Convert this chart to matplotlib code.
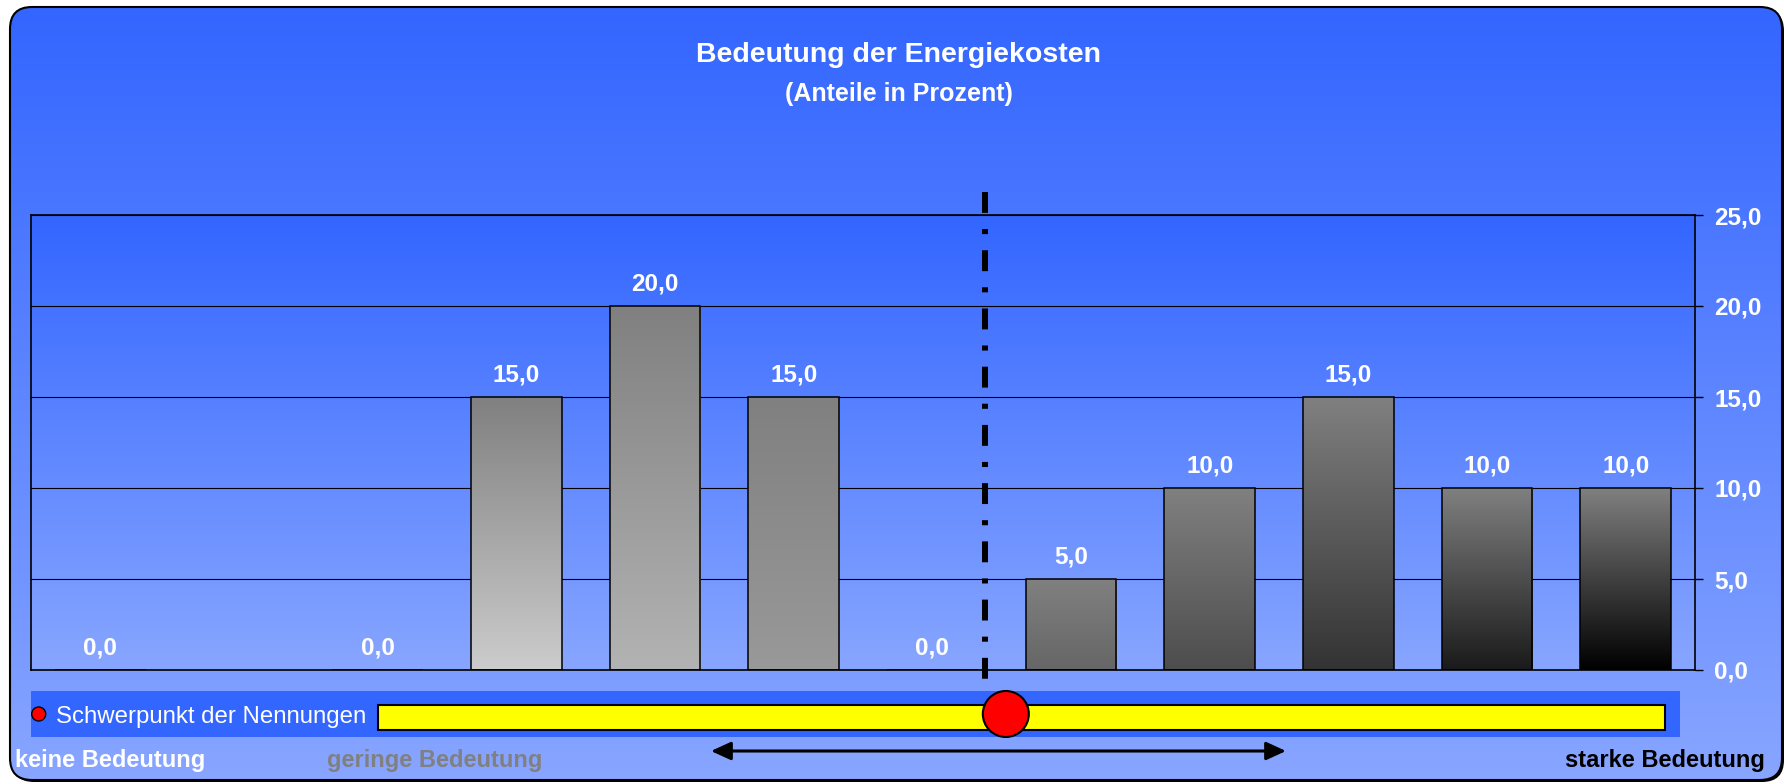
import numpy as np
import matplotlib
matplotlib.use("Agg")
import matplotlib.pyplot as plt
from matplotlib.colors import to_rgb
from matplotlib.patches import FancyBboxPatch, Rectangle, Circle, FancyArrowPatch
from matplotlib.ticker import FuncFormatter

plt.rcParams['font.family'] = ['Liberation Sans', 'DejaVu Sans']
plt.rcParams['font.weight'] = 'bold'

# --- data ---
positions = list(range(12))
values = [0.0, None, 0.0, 15.0, 20.0, 15.0, 0.0, 5.0, 10.0, 15.0, 10.0, 10.0]
yticks = [0, 5, 10, 15, 20, 25]
mean_pos = 6.38      # position of the dash-dot line (category scale)
centroid = 6.53      # Schwerpunkt der Nennungen (category scale)

title = "Bedeutung der Energiekosten"
subtitle = "(Anteile in Prozent)"
legend_label = "Schwerpunkt der Nennungen"
scale_labels = ["keine Bedeutung", "geringe Bedeutung", "starke Bedeutung"]

# bottom colour of each bar's grey gradient (top is always #808080)
bottom_shades = ['#cccccc', '#cccccc', '#cccccc', '#cccccc', '#b3b3b3', '#999999',
                 '#808080', '#666666', '#4d4d4d', '#333333', '#1a1a1a', '#000000']

W, H = 1784, 784


def fmt(v):
    return f"{v:.1f}".replace('.', ',')


def vgrad(c_top, c_bot, n=256):
    t = np.linspace(0, 1, n)[:, None]
    c0 = np.array(to_rgb(c_top))
    c1 = np.array(to_rgb(c_bot))
    return (c0 + (c1 - c0) * t)[:, None, :]


fig = plt.figure(figsize=(W / 100, H / 100), dpi=100)
fig.patch.set_facecolor('white')

# background layer in pixel coordinates
bg = fig.add_axes([0, 0, 1, 1], zorder=0)
bg.set_xlim(0, W)
bg.set_ylim(H, 0)
bg.axis('off')

box_style = "round,pad=0,rounding_size=22"
shadow = FancyBboxPatch((12, 9), 1772, 773, boxstyle=box_style,
                        fc='black', ec='none', zorder=1)
bg.add_patch(shadow)
frame = FancyBboxPatch((10, 7), 1772, 773, boxstyle=box_style,
                       fc='none', ec='black', lw=1.5, zorder=3)
bg.add_patch(frame)
im = bg.imshow(vgrad('#3366ff', '#88a5ff'), extent=(10, 1782, 780, 7),
               origin='upper', aspect='auto', zorder=2)
im.set_clip_path(frame)
# plot area fill
bg.imshow(vgrad('#3366ff', '#88a6ff'), extent=(31, 1695, 670, 215),
          origin='upper', aspect='auto', zorder=4)
bg.set_xlim(0, W)
bg.set_ylim(H, 0)

# main chart
ax = fig.add_axes([31 / W, (H - 670) / H, 1664 / W, 455 / H], zorder=1)
ax.set_facecolor('none')

bar_x = [p for p, v in zip(positions, values) if v is not None]
bar_h = [v for v in values if v is not None]
bar_c = [c for c, v in zip(bottom_shades, values) if v is not None]
bars = ax.bar(bar_x, bar_h, width=0.656, color='none', edgecolor='black',
              linewidth=1.1, zorder=3)
for rect, c in zip(bars, bar_c):
    h = rect.get_height()
    if h <= 0:
        continue
    x0 = rect.get_x()
    g = ax.imshow(vgrad('#808080', c), extent=(x0, x0 + rect.get_width(), 0, h),
                  origin='upper', aspect='auto', zorder=2)
    g.set_clip_path(rect)

for p, v in zip(bar_x, bar_h):
    ax.annotate(fmt(v), (p, v), xytext=(0, 11.5), textcoords='offset points',
                ha='center', va='baseline', color='white', fontsize=17.5,
                fontweight='bold')

ax.set_xlim(-0.5, 11.5)
ax.set_ylim(0, 25)
ax.set_xticks([])
ax.yaxis.tick_right()
ax.set_yticks(yticks)
ax.yaxis.set_major_formatter(FuncFormatter(lambda v, _: fmt(v)))
ax.tick_params(axis='y', direction='out', length=6, width=1, color='black',
               labelcolor='white', labelsize=17.5, pad=8)
ax.yaxis.grid(True, color='black', linewidth=0.8)
ax.set_axisbelow(True)
for s in ax.spines.values():
    s.set_color('black')
    s.set_linewidth(1.2)

# overlay in pixel coordinates
ov = fig.add_axes([0, 0, 1, 1], zorder=2)
ov.set_xlim(0, W)
ov.set_ylim(H, 0)
ov.axis('off')

ov.text(899, 62, title, ha='center', va='baseline', color='white', fontsize=20.5)
ov.text(899, 101, subtitle, ha='center', va='baseline', color='white', fontsize=18)

xm = ax.transData.transform((mean_pos, 0))[0]
ov.plot([xm, xm], [192, 683], color='black', lw=4.3,
        linestyle=(0, (3.5, 2.7, 0.85, 2.7)), solid_capstyle='butt')

ov.add_patch(Rectangle((30.6, 691), 1649.4, 46, fc='#3366ff', ec='none'))
ov.add_patch(Circle((38.7, 714), 7, fc='#ff0000', ec='black', lw=1))
ov.text(55.5, 723, legend_label, ha='left', va='baseline', color='white',
        fontsize=17.3, fontweight='normal')
ov.add_patch(Rectangle((378, 705), 1287, 25, fc='#ffff00', ec='black', lw=1.5))
xc = ax.transData.transform((centroid, 0))[0]
ov.add_patch(Circle((xc, 714), 23, fc='#ff0000', ec='black', lw=1.5, zorder=5))

ov.add_patch(FancyArrowPatch((711, 751), (1286, 751),
                             arrowstyle='<|-|>,head_length=12,head_width=5.5',
                             mutation_scale=1, lw=2.2, color='black',
                             shrinkA=0, shrinkB=0))

ov.text(15, 767, scale_labels[0], ha='left', va='baseline', color='white', fontsize=17)
ov.text(327, 767, scale_labels[1], ha='left', va='baseline', color='#808080', fontsize=17)
ov.text(1765, 767, scale_labels[2], ha='right', va='baseline', color='black', fontsize=17)

fig.savefig('out.png', dpi=100)
